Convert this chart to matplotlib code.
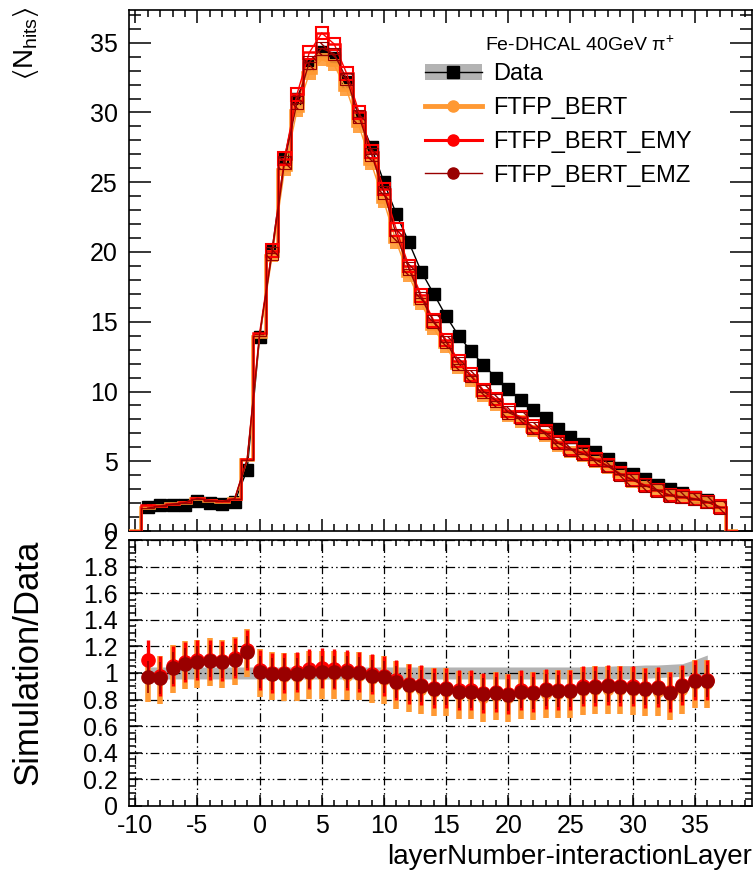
import numpy as np
import matplotlib
matplotlib.use('Agg')
import matplotlib.pyplot as plt
from matplotlib.patches import Rectangle, Patch
from matplotlib.lines import Line2D
from matplotlib.ticker import MultipleLocator, FuncFormatter

plt.rcParams['font.family'] = ['Liberation Sans', 'DejaVu Sans']
plt.rcParams['mathtext.fontset'] = 'custom'
plt.rcParams['mathtext.rm'] = 'Liberation Sans'
plt.rcParams['mathtext.it'] = 'Liberation Sans:italic'
plt.rcParams['mathtext.default'] = 'regular'
plt.rcParams['axes.unicode_minus'] = False

# ---- data ----
layers = list(range(-9, 37))          # ratio / data points
mc_layers = list(range(-9, 38))       # simulated histograms go one bin further

data_nhits = [1.7, 1.85, 1.85, 1.9, 2.15, 2.0, 1.95, 2.1, 4.4,
              13.9, 20.1, 26.7, 31.0, 33.3, 34.3, 33.9, 32.2, 29.7, 27.5,
              25.0, 22.7, 20.7, 18.6, 17.0, 15.4, 14.0, 12.9, 11.9, 11.0,
              10.2, 9.4, 8.7, 8.1, 7.3, 6.75, 6.25, 5.7, 5.15, 4.55,
              4.1, 3.7, 3.3, 3.0, 2.7, 2.45, 2.2]

bert_nhits = [1.63, 1.76, 1.91, 2.01, 2.30, 2.16, 2.09, 2.29, 5.06,
              13.9, 19.7, 25.9, 30.1, 32.8, 33.8, 33.4, 31.6, 29.0, 26.3,
              23.6, 20.7, 18.3, 16.3, 14.5, 13.2, 11.7, 10.8, 9.7, 9.08,
              8.26, 7.85, 7.18, 6.84, 6.13, 5.67, 5.41, 4.96, 4.51, 3.96,
              3.55, 3.16, 2.84, 2.48, 2.36, 2.24, 2.01, 1.65]

emy_nhits = [1.87, 1.81, 1.94, 2.05, 2.37, 2.2, 2.13, 2.33, 5.15,
             14.2, 20.1, 26.7, 31.3, 34.3, 35.7, 34.9, 32.8, 30.0, 27.2,
             24.5, 21.6, 19.0, 16.9, 15.1, 13.7, 12.2, 11.2, 10.1, 9.46,
             8.62, 8.18, 7.48, 7.13, 6.39, 5.9, 5.63, 5.16, 4.69, 4.12,
             3.69, 3.29, 2.95, 2.58, 2.46, 2.33, 2.09, 1.75]

emz_nhits = [1.65, 1.78, 1.92, 2.03, 2.33, 2.18, 2.12, 2.31, 5.1,
             14.0, 19.9, 26.4, 30.7, 33.6, 34.6, 34.2, 32.4, 29.7, 27.0,
             24.25, 21.2, 18.8, 16.7, 15.0, 13.55, 12.0, 11.1, 10.0, 9.35,
             8.5, 8.1, 7.4, 7.05, 6.3, 5.85, 5.55, 5.1, 4.65, 4.07,
             3.65, 3.25, 2.92, 2.55, 2.43, 2.3, 2.07, 1.7]

ratio_bert = [0.96, 0.95, 1.03, 1.06, 1.07, 1.08, 1.07, 1.09, 1.15,
              1.0, 0.98, 0.97, 0.97, 0.985, 0.985, 0.985, 0.98, 0.975, 0.955,
              0.945, 0.91, 0.885, 0.875, 0.855, 0.855, 0.835, 0.835, 0.815, 0.825,
              0.81, 0.835, 0.825, 0.845, 0.84, 0.84, 0.865, 0.87, 0.875, 0.87,
              0.865, 0.855, 0.86, 0.825, 0.875, 0.915, 0.915]

ratio_emy = [1.10, 0.98, 1.05, 1.08, 1.10, 1.10, 1.09, 1.11, 1.17,
             1.02, 1.0, 1.0, 1.01, 1.03, 1.04, 1.03, 1.02, 1.01, 0.99,
             0.98, 0.95, 0.92, 0.91, 0.89, 0.89, 0.87, 0.87, 0.85, 0.86,
             0.845, 0.87, 0.86, 0.88, 0.875, 0.875, 0.90, 0.905, 0.91, 0.905,
             0.90, 0.89, 0.895, 0.86, 0.91, 0.95, 0.95]

ratio_emz = [0.97, 0.96, 1.04, 1.07, 1.085, 1.09, 1.085, 1.10, 1.16,
             1.01, 0.99, 0.99, 0.99, 1.01, 1.01, 1.01, 1.005, 1.0, 0.98,
             0.97, 0.935, 0.91, 0.90, 0.88, 0.88, 0.86, 0.86, 0.84, 0.85,
             0.835, 0.86, 0.85, 0.87, 0.865, 0.865, 0.89, 0.895, 0.90, 0.895,
             0.89, 0.88, 0.885, 0.85, 0.90, 0.94, 0.94]

band_lo = [0.955] * 40 + [0.96, 0.965, 0.97, 0.975, 0.98, 0.985]
band_hi = [1.045] * 36 + [1.05, 1.05, 1.055, 1.055, 1.06, 1.06, 1.065, 1.07, 1.1, 1.135]

err_bert = 0.18
err_emy = 0.15
err_emz = 0.12

c_bert = '#ff9933'
c_emy = '#ff0000'
c_emz = '#990000'
c_band = '#b3b3b3'

fig = plt.figure(figsize=(7.55, 8.75), dpi=100)
ax1 = fig.add_axes([0.1709, 0.3931, 0.8252, 0.5954])
ax2 = fig.add_axes([0.1709, 0.0789, 0.8252, 0.3040])

# ---- upper panel ----
edges = np.arange(-10.5, 39.5, 1.0)
box_h = 0.9

ax1.plot(layers, data_nhits, color='black', lw=1, marker='s', ms=9,
         zorder=2)

for vals, col, lw, style in [(bert_nhits, c_bert, 2.6, 'fill'),
                             (emy_nhits, c_emy, 1.8, 'open'),
                             (emz_nhits, c_emz, 0.9, 'hatch')]:
    ax1.stairs([0] + vals + [0], edges, color=col, lw=lw, zorder=3)
    ax1.plot(mc_layers, vals, color=col, lw=1, zorder=3)
    for x, v in zip(mc_layers, vals):
        if x < 1:
            continue
        if style == 'fill':
            r = Rectangle((x - 0.5, v - box_h / 2), 1, box_h, facecolor=col,
                          edgecolor='none', alpha=0.9, zorder=3)
        elif style == 'open':
            r = Rectangle((x - 0.5, v - box_h / 2), 1, box_h, facecolor='none',
                          edgecolor=col, lw=1.5, zorder=4)
        else:
            r = Rectangle((x - 0.5, v - box_h / 2), 1, box_h, facecolor='none',
                          edgecolor=col, lw=0.8, hatch='\\\\\\', zorder=5)
        ax1.add_patch(r)

ax1.set_xlim(-10.5, 39.6)
ax1.set_ylim(0, 37.34)
ax1.xaxis.set_major_locator(MultipleLocator(5))
ax1.xaxis.set_minor_locator(MultipleLocator(1))
ax1.yaxis.set_major_locator(MultipleLocator(5))
ax1.yaxis.set_minor_locator(MultipleLocator(1))
ax1.tick_params(which='both', direction='in', top=True, right=True,
                labelbottom=False, labelsize=18, width=1.1)
ax1.tick_params(axis='y', which='major', length=16, pad=8)
ax1.tick_params(axis='y', which='minor', length=8.5)
ax1.tick_params(axis='x', which='major', length=9)
ax1.tick_params(axis='x', which='minor', length=5)
for s in ax1.spines.values():
    s.set_linewidth(1.2)

ax1.text(0.724, 0.933, r'Fe-DHCAL 40GeV $\pi^{+}$', transform=ax1.transAxes,
         ha='center', va='center', fontsize=14)

h_data = (Patch(facecolor=c_band, edgecolor='none'),
          Line2D([], [], color='black', lw=1, marker='s', ms=9))
h_bert = Line2D([], [], color=c_bert, lw=3.5, marker='o', ms=8)
h_emy = Line2D([], [], color=c_emy, lw=2.2, marker='o', ms=8)
h_emz = Line2D([], [], color=c_emz, lw=1.0, marker='o', ms=8)
ax1.legend([h_data, h_bert, h_emy, h_emz],
           ['Data', 'FTFP_BERT', 'FTFP_BERT_EMY', 'FTFP_BERT_EMZ'],
           loc='upper left', bbox_to_anchor=(0.475, 0.898), frameon=False,
           fontsize=17, handlelength=2.4, handletextpad=0.5,
           labelspacing=0.5, borderpad=0, borderaxespad=0)

# ---- lower panel ----
ax2.fill_between(layers, band_lo, band_hi, color=c_band, lw=0, zorder=1)
ax2.errorbar(layers, ratio_bert, yerr=err_bert, fmt='o', color=c_bert,
             ms=7, elinewidth=4, capsize=0, zorder=3)
ax2.errorbar(layers, ratio_emy, yerr=err_emy, fmt='o', color=c_emy,
             ms=9.5, elinewidth=2.4, capsize=0, zorder=4)
ax2.errorbar(layers, ratio_emz, yerr=err_emz, fmt='o', color=c_emz,
             ms=9.5, elinewidth=1.2, capsize=0, zorder=5)

ax2.set_xlim(-10.5, 39.6)
ax2.set_ylim(0, 2)
ax2.xaxis.set_major_locator(MultipleLocator(5))
ax2.xaxis.set_minor_locator(MultipleLocator(1))
ax2.yaxis.set_major_locator(MultipleLocator(0.2))
ax2.yaxis.set_minor_locator(MultipleLocator(0.05))
ax2.yaxis.set_major_formatter(FuncFormatter(lambda v, p: '%g' % round(v, 2)))
ax2.grid(True, which='major', color='black', lw=0.9,
         ls=(0, (7, 2.5, 1.2, 2.5, 1.2, 2.5)), zorder=0)
ax2.tick_params(which='both', direction='in', top=True, right=True,
                labelsize=18, width=1.1)
ax2.tick_params(axis='y', which='major', length=9, pad=8)
ax2.tick_params(axis='y', which='minor', length=5)
ax2.tick_params(axis='x', which='major', length=8, pad=6)
ax2.tick_params(axis='x', which='minor', length=4)
for s in ax2.spines.values():
    s.set_linewidth(1.2)

# ---- axis titles ----
fig.text(0.035, 0.992, r'$\langle N_{hits}\rangle$', rotation=90,
         ha='center', va='top', fontsize=20)
fig.text(0.037, 0.383, 'Simulation/Data', rotation=90, ha='center',
         va='top', fontsize=25)
fig.text(0.996, 0.02, 'layerNumber-interactionLayer', ha='right',
         va='center', fontsize=20)

fig.savefig('out.png', dpi=100)
